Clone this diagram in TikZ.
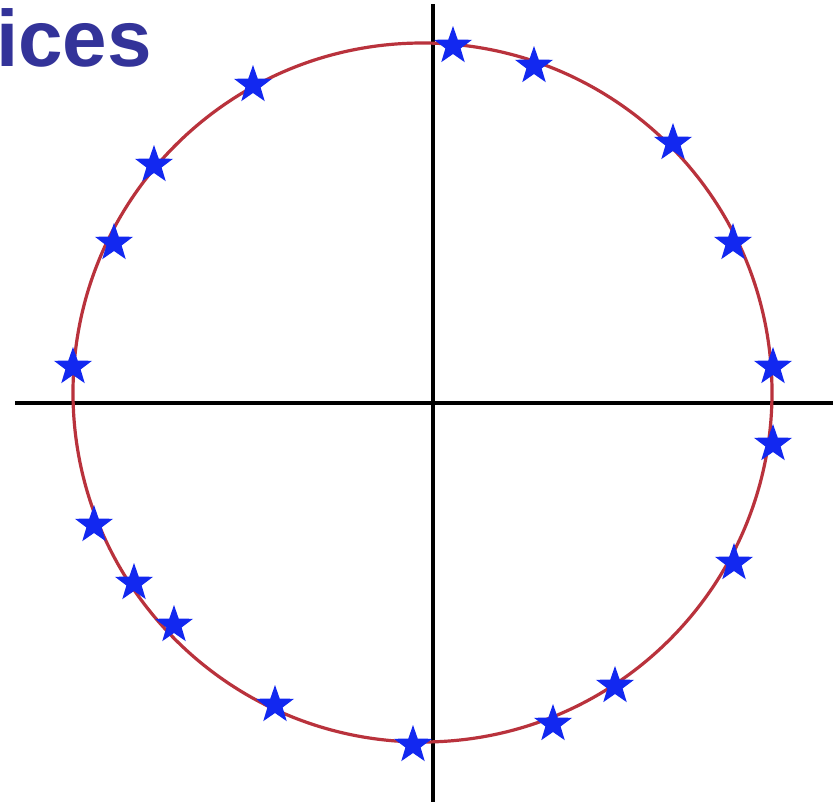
\documentclass[tikz,border=0pt]{standalone}
\usepackage{fontspec}
\setmainfont{Liberation Sans}
\usetikzlibrary{shapes.geometric}
\definecolor{ringred}{RGB}{185,50,60}
\definecolor{starblue}{RGB}{18,40,240}
\definecolor{titleblue}{RGB}{51,51,153}

\begin{document}
\begin{tikzpicture}[
    x=1pt, y=-1pt,
    ax/.style={line width=3.8pt, black},
    ring/.style={line width=3.2pt, ringred},
    st/.style={star, star points=5, star point ratio=2.5, fill=starblue,
               minimum size=40pt, inner sep=0pt},
    ttl/.style={font=\fontsize{80}{84}\selectfont\bfseries, text=titleblue,
                inner sep=0pt},
  ]
  \useasboundingbox (0,0) rectangle (835,807);
  \clip (0,0) rectangle (835,807);
  \fill[white] (0,0) rectangle (835,807);
  \node[ttl, anchor=base east] (title) at (152,66) {ices};
  % axes
  \coordinate (xl) at (15,403);
  \coordinate (xr) at (833,403);
  \coordinate (yt) at (433,4);
  \coordinate (yb) at (433,802);
  \draw[ax] (xl) -- (xr);
  \draw[ax] (yt) -- (yb);
  % unit circle
  \coordinate (o) at (422.5,392.5);
  \draw[ring] (o) circle[radius=349.5];
  % points on the circle
  \node[st] (s1) at (453,46) {};
  \node[st] (s2) at (534,66) {};
  \node[st] (s3) at (673,143) {};
  \node[st] (s4) at (733,243) {};
  \node[st] (s5) at (773,367) {};
  \node[st] (s6) at (773,444) {};
  \node[st] (s7) at (734,563) {};
  \node[st] (s8) at (615,686) {};
  \node[st] (s9) at (553,724) {};
  \node[st] (s10) at (413,745) {};
  \node[st] (s11) at (275,705) {};
  \node[st] (s12) at (174,625) {};
  \node[st] (s13) at (134,583) {};
  \node[st] (s14) at (94,525) {};
  \node[st] (s15) at (73,367) {};
  \node[st] (s16) at (114,243) {};
  \node[st] (s17) at (154,165) {};
  \node[st] (s18) at (253,85) {};
\end{tikzpicture}
\end{document}
